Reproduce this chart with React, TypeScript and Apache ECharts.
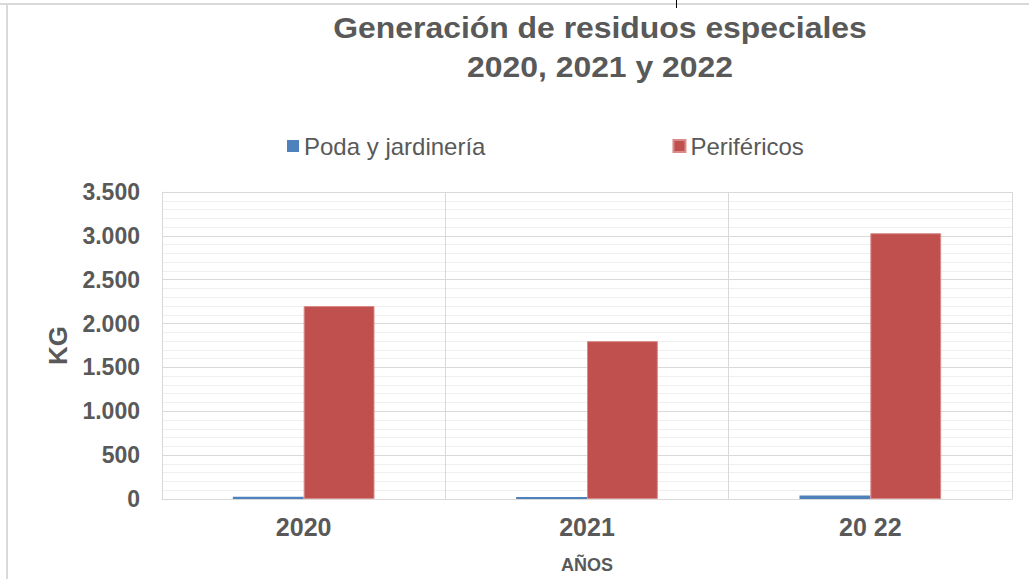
import React, { useEffect, useRef } from "react";
import * as echarts from "echarts";

const categories = ["2020", "2021", "20 22"];
const podaValues = [25, 22, 40];
const perifericosValues = [2200, 1800, 3030];
const seriesNames = ["Poda y jardinería", "Periféricos"];
const titleLines = ["Generación de residuos especiales", "2020, 2021 y 2022"];

const GREY = "#595959";
const FONT = "Liberation Sans";

export default function App() {
  const ref = useRef<HTMLDivElement>(null);
  useEffect(() => {
    if (!ref.current) return;
    const chart = echarts.init(ref.current, null, { renderer: "svg" });
    chart.setOption({
      animation: false,
      backgroundColor: "#ffffff",
      textStyle: { fontFamily: FONT },
      graphic: [
        {
          type: "line",
          shape: { x1: 0, y1: 4, x2: 1029, y2: 4 },
          style: { stroke: "#d9d9d9", lineWidth: 2 },
        },
        {
          type: "line",
          shape: { x1: 7, y1: 4, x2: 7, y2: 579 },
          style: { stroke: "#d9d9d9", lineWidth: 2 },
        },
        {
          type: "line",
          shape: { x1: 676.5, y1: 0, x2: 676.5, y2: 8 },
          style: { stroke: "#000000", lineWidth: 1 },
        },
        {
          type: "text",
          x: 600,
          y: 47,
          scaleX: 1.1,
          style: {
            text: titleLines.join("\n"),
            fill: GREY,
            font: `bold 29px "${FONT}"`,
            textAlign: "center",
            textVerticalAlign: "middle",
            lineHeight: 39,
          },
        },
      ],
      legend: {
        data: seriesNames,
        left: 287,
        top: 134,
        padding: 0,
        icon: "rect",
        itemWidth: 12,
        itemHeight: 12,
        itemGap: 187,
        textStyle: { color: GREY, fontSize: 24, fontFamily: FONT },
      },
      grid: { left: 162, right: 17, top: 192, bottom: 77 },
      xAxis: {
        type: "category",
        data: categories,
        name: "AÑOS",
        nameLocation: "middle",
        nameGap: 57,
        nameTextStyle: { color: GREY, fontSize: 18, fontWeight: "bold", fontFamily: FONT },
        axisLine: { show: true, lineStyle: { color: "#d9d9d9", width: 1 } },
        axisTick: { show: false },
        axisLabel: { color: GREY, fontSize: 25, fontWeight: "bold", margin: 15, fontFamily: FONT },
        splitLine: { show: true, lineStyle: { color: "#d9d9d9", width: 1 } },
      },
      yAxis: {
        type: "value",
        min: 0,
        max: 3500,
        interval: 500,
        name: "KG",
        nameLocation: "middle",
        nameGap: 91,
        nameRotate: 90,
        nameTextStyle: { color: GREY, fontSize: 26, fontWeight: "bold", fontFamily: FONT },
        axisLine: { show: true, lineStyle: { color: "#d9d9d9", width: 1 } },
        axisTick: { show: false },
        axisLabel: {
          color: GREY,
          fontSize: 23,
          fontWeight: "bold",
          margin: 22,
          fontFamily: FONT,
          formatter: (v: number) => v.toString().replace(/\B(?=(\d{3})+(?!\d))/g, "."),
        },
        splitLine: { show: true, lineStyle: { color: "#d9d9d9", width: 1 } },
        minorTick: { show: false, splitNumber: 5 },
        minorSplitLine: { show: true, lineStyle: { color: "#efefef", width: 1 } },
      },
      series: [
        {
          name: seriesNames[0],
          type: "bar",
          data: podaValues,
          barGap: "0%",
          barCategoryGap: "50%",
          itemStyle: { color: "#4f81bd" },
        },
        {
          name: seriesNames[1],
          type: "bar",
          data: perifericosValues,
          barGap: "0%",
          barCategoryGap: "50%",
          itemStyle: { color: "#c0504d", borderColor: "#d98b89", borderWidth: 1 },
        },
      ],
    });
    return () => chart.dispose();
  }, []);
  return (
    <div
      ref={ref}
      style={{ position: "absolute", left: 0, top: 0, width: 1029, height: 579 }}
    />
  );
}
